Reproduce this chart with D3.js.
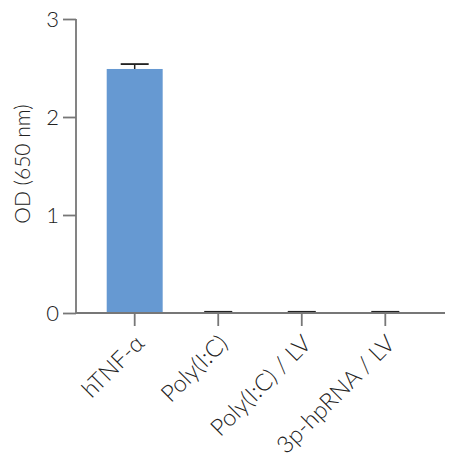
<!DOCTYPE html>
<html>
<head>
<meta charset="utf-8">
<script src="https://cdn.jsdelivr.net/npm/d3@7"></script>
<style>
  body { margin: 0; background: #fff; }
  text { font-family: Lato, "Open Sans", sans-serif; font-weight: 300; fill: #222; }
</style>
</head>
<body>
<svg id="chart" width="450" height="459"></svg>
<script>
var categories = ["hTNF-\u03b1", "Poly(I:C)", "Poly(I:C) / LV", "3p-hpRNA / LV"];
var values = [2.49, 0.012, 0.012, 0.012];
var errors = [0.05, 0, 0, 0];
var yTicks = [0, 1, 2, 3];

var svg = d3.select("#chart");
var mLeft = 76, mRight = 445, mTop = 19, mBottom = 313;

var x = d3.scaleBand()
    .domain(categories)
    .range([90, 430])
    .paddingInner(0.33)
    .paddingOuter(0.2);

var y = d3.scaleLinear().domain([0, 3]).range([mBottom, mTop]);

// bars
svg.selectAll("rect.bar")
    .data(values)
    .enter().append("rect")
    .attr("class", "bar")
    .attr("x", function(d, i) { return d > 0.1 ? x(categories[i]) : x(categories[i]) + x.bandwidth() / 4; })
    .attr("y", function(d) { return y(d); })
    .attr("width", function(d) { return d > 0.1 ? x.bandwidth() : x.bandwidth() / 2; })
    .attr("height", function(d) { return mBottom - y(d); })
    .attr("fill", function(d) { return d > 0.1 ? "#6699d2" : "#111"; });

// error bars
var cap = x.bandwidth() / 2;
var eb = svg.selectAll("g.err")
    .data(values)
    .enter().append("g")
    .attr("class", "err")
    .attr("transform", function(d, i) { return "translate(" + (x(categories[i]) + x.bandwidth() / 2) + ",0)"; });
eb.append("line")
    .attr("x1", 0).attr("x2", 0)
    .attr("y1", function(d) { return y(d); })
    .attr("y2", function(d, i) { return y(d + errors[i]); })
    .attr("stroke", "#222").attr("stroke-width", 1.5);
eb.append("line")
    .attr("x1", -cap / 2).attr("x2", cap / 2)
    .attr("y1", function(d, i) { return y(d + errors[i]); })
    .attr("y2", function(d, i) { return y(d + errors[i]); })
    .attr("stroke", "#222").attr("stroke-width", 1.8);

// y axis
var yAxis = svg.append("g")
    .attr("transform", "translate(" + mLeft + ",0)")
    .call(d3.axisLeft(y).tickValues(yTicks).tickFormat(d3.format("d")).tickSize(13).tickPadding(4));
yAxis.select(".domain").attr("stroke", "#777").attr("stroke-width", 1.8)
    .attr("d", "M0," + mTop + "V" + mBottom);
yAxis.selectAll(".tick line").attr("stroke", "#777").attr("stroke-width", 1.8);
yAxis.selectAll(".tick text").attr("font-size", 22).style("font-family", "Lato, sans-serif").style("font-weight", 300).attr("fill", "#222");

// x axis
var xAxis = svg.append("g")
    .attr("transform", "translate(0," + mBottom + ")")
    .call(d3.axisBottom(x).tickSize(13).tickSizeOuter(0));
xAxis.select(".domain").attr("stroke", "#777").attr("stroke-width", 1.8)
    .attr("d", "M" + mLeft + ",0H" + mRight);
xAxis.selectAll(".tick line").attr("stroke", "#777").attr("stroke-width", 1.8);
xAxis.selectAll(".tick text")
    .attr("font-size", 23.5)
    .style("font-family", "Lato, sans-serif").style("font-weight", 300).attr("fill", "#222")
    .attr("text-anchor", "end")
    .attr("dy", "0")
    .attr("y", 0)
    .attr("transform", "translate(11,32) rotate(-45)");

// y label
svg.append("text")
    .attr("transform", "translate(30,164) rotate(-90)")
    .attr("text-anchor", "middle")
    .attr("font-size", 21)
    .text("OD (650 nm)");
</script>
</body>
</html>
